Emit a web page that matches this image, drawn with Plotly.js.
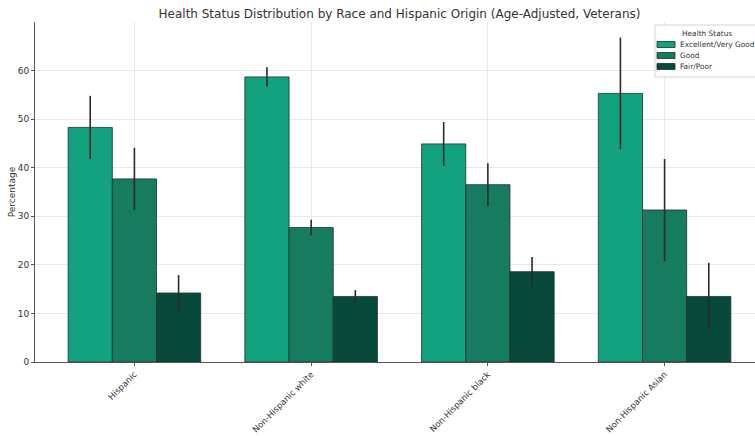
<!DOCTYPE html>
<html>
<head>
<meta charset="utf-8">
<script src="https://cdn.plot.ly/plotly-3.0.1.min.js"></script>
<style>
  html, body { margin: 0; padding: 0; background: #ffffff; overflow: hidden; }
  #chart { width: 780px; height: 436px; }
</style>
</head>
<body>
<div id="chart"></div>
<script>
// Groups along the x axis
const groups = ["Hispanic", "Non-Hispanic white", "Non-Hispanic black", "Non-Hispanic Asian"];

// Health status series (age-adjusted percentages)
const excellentVeryGood = [48.3, 58.7, 44.9, 55.3];
const good = [37.7, 27.7, 36.5, 31.3];
const fairPoor = [14.2, 13.5, 18.6, 13.5];

// Error half-widths for each series
const excellentVeryGoodErr = [6.5, 2.0, 4.5, 11.5];
const goodErr = [6.4, 1.6, 4.4, 10.5];
const fairPoorErr = [3.7, 1.3, 3.0, 6.9];

const seriesNames = ["Excellent/Very Good", "Good", "Fair/Poor"];
const legendTitle = "Health Status";
const seriesColors = ["#13A27F", "#167B5F", "#07493A"];

const values = [excellentVeryGood, good, fairPoor];
const errors = [excellentVeryGoodErr, goodErr, fairPoorErr];

const edgeColor = "#1f2f2a";

const traces = values.map((v, i) => ({
  type: "bar",
  name: seriesNames[i],
  x: groups,
  y: v,
  marker: { color: seriesColors[i], line: { color: edgeColor, width: 0.8 } },
  error_y: { type: "data", array: errors[i], visible: true, color: "#2a2a2a", thickness: 1.6, width: 0 },
  showlegend: false
}));

const font = "DejaVu Sans, Verdana, sans-serif";

// Figure and plot-area geometry (pixels)
const figW = 780, figH = 436;
const mL = 35, mR = 16, mT = 22, mB = 74;
const plotW = figW - mL - mR, plotH = figH - mT - mB;
const px = (x) => (x - mL) / plotW;
const py = (y) => (figH - mB - y) / plotH;

// Legend box with a title and one swatch per series, placed in the top-right corner
const shapes = [{
  type: "rect", xref: "paper", yref: "paper", layer: "above",
  x0: px(655), x1: px(800), y0: py(77), y1: py(25),
  fillcolor: "rgba(255,255,255,0.85)", line: { color: "#d4d4d4", width: 1 }
}];
const annotations = [{
  xref: "paper", yref: "paper", x: px(707), y: py(34),
  xanchor: "center", yanchor: "middle", showarrow: false,
  text: legendTitle, font: { family: font, size: 7.4, color: "#333333" }
}];
seriesNames.forEach((name, i) => {
  const cy = 44.5 + i * 11;
  shapes.push({
    type: "rect", xref: "paper", yref: "paper", layer: "above",
    x0: px(657), x1: px(675), y0: py(cy + 3), y1: py(cy - 3),
    fillcolor: seriesColors[i], line: { color: edgeColor, width: 0.8 }
  });
  annotations.push({
    xref: "paper", yref: "paper", x: px(678), y: py(cy),
    xanchor: "left", yanchor: "middle", showarrow: false,
    text: name, font: { family: font, size: 7.4, color: "#333333" }
  });
});

const layout = {
  width: figW,
  height: figH,
  margin: { l: mL, r: mR, t: mT, b: mB, pad: 0 },
  paper_bgcolor: "#ffffff",
  plot_bgcolor: "#ffffff",
  font: { family: font, color: "#333333", size: 9 },
  barmode: "group",
  bargap: 0.25,
  bargroupgap: 0,
  showlegend: false,
  title: {
    text: "Health Status Distribution by Race and Hispanic Origin (Age-Adjusted, Veterans)",
    font: { family: font, size: 12, color: "#333333" },
    x: 0.5, xref: "paper", xanchor: "center",
    y: 1 - 14 / figH, yref: "container", yanchor: "middle"
  },
  xaxis: {
    type: "category",
    range: [-0.5625, 3.5625],
    tickangle: -45,
    tickfont: { size: 8.5, color: "#333333" },
    showgrid: true,
    gridcolor: "#e8e8e8",
    gridwidth: 1,
    showline: true,
    linecolor: "#555555",
    linewidth: 1,
    ticks: "outside",
    ticklen: 3,
    tickcolor: "#555555",
    zeroline: false,
    automargin: false
  },
  yaxis: {
    range: [0, 70],
    tickvals: [0, 10, 20, 30, 40, 50, 60],
    tickfont: { size: 9, color: "#333333" },
    title: { text: "Percentage", font: { size: 9, color: "#333333" }, standoff: 0 },
    showgrid: true,
    gridcolor: "#e8e8e8",
    gridwidth: 1,
    showline: true,
    linecolor: "#555555",
    linewidth: 1,
    ticks: "outside",
    ticklen: 3,
    tickcolor: "#555555",
    zeroline: false,
    automargin: false
  },
  shapes: shapes,
  annotations: annotations
};

Plotly.newPlot("chart", traces, layout, { displayModeBar: false, staticPlot: true });
</script>
</body>
</html>
